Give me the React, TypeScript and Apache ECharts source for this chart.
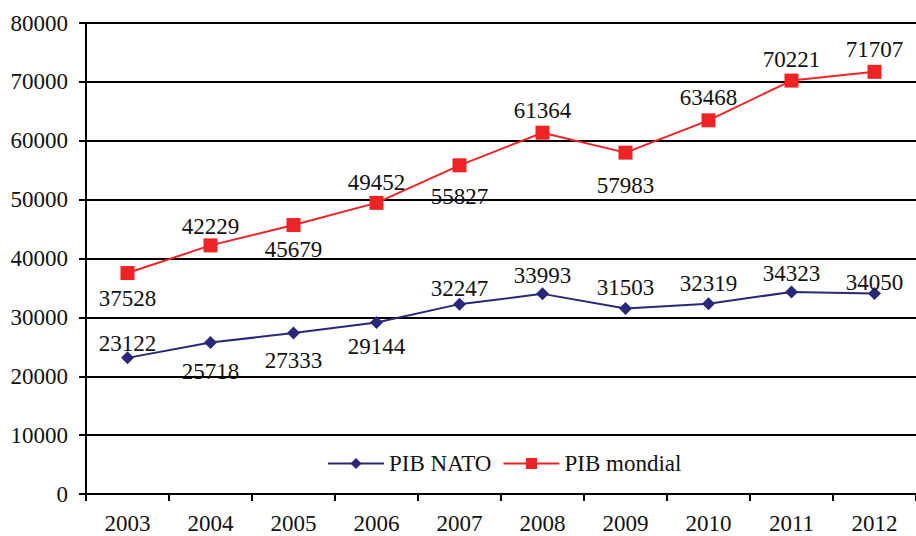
import React, { useEffect, useRef } from "react";
import * as echarts from "echarts";

const years = ["2003", "2004", "2005", "2006", "2007", "2008", "2009", "2010", "2011", "2012"];
const nato = [23122, 25718, 27333, 29144, 32247, 33993, 31503, 32319, 34323, 34050];
const world = [37528, 42229, 45679, 49452, 55827, 61364, 57983, 63468, 70221, 71707];

// label layout (not data)
const natoLabelPos = ["top", "bottom", "bottom", "bottom", "top", "top", "top", "top", "top", "top"];
const natoLabelDist = [-4, 11, 9, 6, -2, 0, 3, 2, 0, -7];
const worldLabelPos = ["bottom", "top", "bottom", "top", "bottom", "top", "bottom", "top", "top", "top"];
const worldLabelDist = [7, 0, 6, 2, 13, 4, 14, 4, 3, 4];

const FONT = "Liberation Serif";

export default function App() {
  const ref = useRef<HTMLDivElement>(null);
  useEffect(() => {
    const chart = echarts.init(ref.current!, null, { renderer: "svg" });
    const lbl = { fontFamily: FONT, fontSize: 23, color: "#111" };
    chart.setOption({
      animation: false,
      backgroundColor: "#fff",
      textStyle: { fontFamily: FONT },
      grid: { left: 86, top: 23, width: 836, height: 471, containLabel: false },
      legend: {
        left: 322,
        top: 447,
        itemWidth: 56,
        itemHeight: 14,
        itemGap: 11,
        textStyle: { fontFamily: FONT, fontSize: 23, color: "#111" },
        data: ["PIB NATO", "PIB mondial"],
      },
      xAxis: {
        type: "category",
        data: years,
        boundaryGap: true,
        axisLine: { lineStyle: { color: "#000", width: 2 } },
        axisTick: { show: true, length: 7, lineStyle: { color: "#000", width: 2 } },
        axisLabel: { ...lbl, margin: 18 },
        splitLine: { show: false },
      },
      yAxis: {
        type: "value",
        min: 0,
        max: 80000,
        interval: 10000,
        axisLine: { show: true, lineStyle: { color: "#000", width: 2 } },
        axisTick: { show: true, length: 7, lineStyle: { color: "#000", width: 2 } },
        axisLabel: { ...lbl, margin: 18, formatter: (v: number) => String(v) },
        splitLine: { show: true, lineStyle: { color: "#000", width: 2 } },
      },
      series: [
        {
          name: "PIB NATO",
          type: "line",
          data: nato.map((v, i) => ({
            value: v,
            label: { position: natoLabelPos[i], distance: natoLabelDist[i] },
          })),
          symbol: "diamond",
          symbolSize: 13,
          itemStyle: { color: "#292878" },
          lineStyle: { color: "#292878", width: 2 },
          label: { show: true, ...lbl },
        },
        {
          name: "PIB mondial",
          type: "line",
          data: world.map((v, i) => ({
            value: v,
            label: { position: worldLabelPos[i], distance: worldLabelDist[i] },
          })),
          symbol: "rect",
          symbolSize: 14,
          itemStyle: { color: "#ee2326" },
          lineStyle: { color: "#ee2326", width: 2 },
          label: { show: true, ...lbl },
        },
      ],
    });
    return () => chart.dispose();
  }, []);
  return <div ref={ref} style={{ width: 916, height: 536, position: "absolute", left: 0, top: 0 }} />;
}
